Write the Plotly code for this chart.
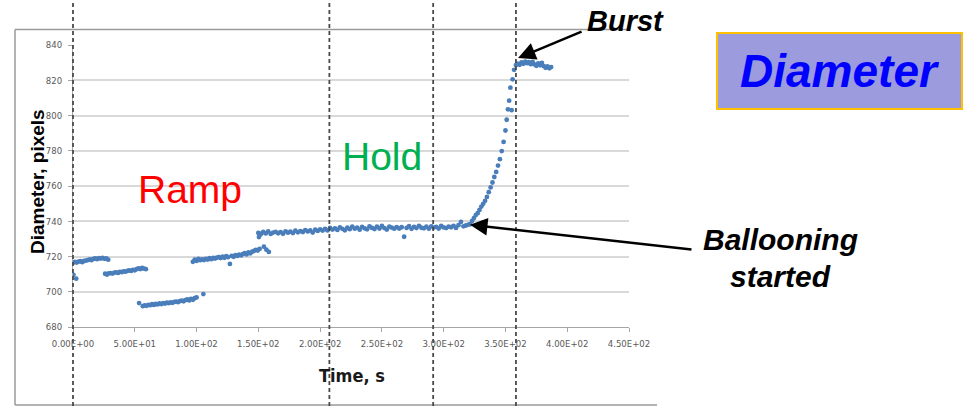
import plotly.graph_objects as go

# ---------------- data ----------------
# Ramp, first step
ramp1_t = [0.4, 2.6, 0.0, 1.5, 3.0, 4.5, 6.0, 7.5, 9.0, 10.5, 12.0, 13.5, 15.0, 16.5, 18.0,
           19.5, 21.0, 22.5, 24.0, 25.5, 27.0, 28.5]
ramp1_d = [709.6, 707.4, 716.4, 716.9, 716.6, 717.1, 717.3, 716.8, 717.5, 717.7, 718.0, 718.3,
           717.9, 718.6, 718.9, 718.5, 719.1, 718.8, 719.2, 718.7, 718.9, 718.2]

# Ramp, second step
ramp2_t = [26.0, 27.5, 29.0, 30.5, 32.0, 33.5, 35.0, 36.5, 38.0, 39.5, 41.0, 42.5, 44.0, 45.5,
           47.0, 48.5, 50.0, 51.5, 53.0, 54.5, 56.0, 57.5, 59.0]
ramp2_d = [710.2, 709.8, 710.4, 710.6, 710.3, 710.9, 711.0, 710.7, 711.3, 711.1, 711.6, 711.4,
           711.9, 712.1, 711.8, 712.4, 712.2, 712.8, 713.3, 712.9, 713.5, 713.1, 712.8]

# Ramp, third step (low)
ramp3_t = [53.5, 56.5, 58.0, 59.5, 61.0, 62.5, 64.0, 65.5, 67.0, 68.5, 70.0, 71.5, 73.0, 74.5,
           76.0, 77.5, 79.0, 80.5, 82.0, 83.5, 85.0, 86.5, 88.0, 89.5, 91.0, 92.5, 94.0, 95.5,
           97.0, 98.5, 100.0, 105.5]
ramp3_d = [693.6, 691.8, 692.3, 692.0, 692.6, 692.4, 692.9, 692.5, 693.1, 692.8, 693.4, 693.0,
           693.6, 693.3, 693.8, 693.5, 694.0, 693.7, 694.2, 694.4, 694.1, 694.7, 695.0, 694.6,
           695.3, 695.6, 695.1, 696.0, 695.4, 696.3, 696.8, 698.7]

# Ramp, fourth step
ramp4_t = [97.0, 98.5, 100.0, 101.5, 103.0, 104.5, 106.0, 107.5, 109.0, 110.5, 112.0, 113.5,
           115.0, 116.5, 118.0, 119.5, 121.0, 122.5, 124.0, 125.5, 127.0, 128.5, 130.0, 131.5,
           133.0, 134.5, 136.0, 137.5, 139.0, 140.5, 142.0, 143.5, 145.0, 146.5, 148.0, 149.5,
           151.0, 150.5, 151.5, 154.5, 156.5, 158.5]
ramp4_d = [717.0, 718.2, 717.5, 718.6, 717.9, 718.4, 718.0, 718.7, 718.3, 719.0, 718.5, 719.2,
           718.8, 719.4, 719.7, 719.1, 719.9, 719.3, 720.2, 719.6, 715.8, 720.4, 719.8, 720.8,
           720.3, 721.1, 720.6, 721.4, 721.9, 721.2, 722.3, 721.8, 722.7, 723.2, 723.8, 723.4,
           724.3, 731.0, 733.0, 725.6, 723.9, 722.6]

# Hold
hold_t = [150, 152, 154, 156, 158, 160, 162, 164, 166, 168, 170, 172, 174,
          176, 178, 180, 182, 184, 186, 188, 190, 192, 194, 196, 198, 200, 202,
          204, 206, 208, 210, 212, 214, 216, 218, 220, 222, 224, 226, 228, 230, 232, 234,
          236, 238, 240, 242,
          244, 246, 248, 250, 252, 254, 256, 258, 260, 262, 264, 266, 268, 270, 272, 274,
          276, 278, 280, 282,
          284, 286, 288, 290, 292, 294, 296, 298, 300, 302, 304, 306, 308, 310, 312, 314,
          316, 318, 320]
hold_d = [733.4, 732.6, 733.9, 733.1, 734.2, 732.8, 733.6, 734.0, 733.2, 733.8, 732.9, 734.3, 733.5,
          734.1, 733.3, 734.6, 733.7, 734.4, 733.9, 735.0, 734.2, 734.8, 733.6, 735.2, 734.5, 735.4, 734.7,
          735.6, 734.8, 736.2, 735.3, 736.0, 735.1, 736.5, 735.7, 734.9, 736.3, 735.5, 737.0, 735.8,
          736.4, 735.2, 736.8, 736.0, 735.4, 737.1, 736.2,
          735.6, 736.9, 735.9, 737.3, 736.1, 735.3, 737.0, 736.4, 735.8, 736.7, 735.9, 736.6, 731.2,
          736.2, 737.2, 735.7, 736.8, 736.1, 737.4, 736.3,
          736.0, 736.9, 735.8, 737.1, 736.4, 736.8, 735.9, 737.3, 736.5, 736.1, 737.0, 736.6, 737.4,
          736.2, 737.8, 739.6, 737.1, 737.6, 738.1]

# Ballooning
balloon_t = [321.5, 323.0, 324.5, 326.0, 327.5, 329.0, 330.5, 332.0, 333.5, 335.0, 336.5, 338.0,
             339.5, 341.0, 342.5, 344.0, 345.5, 347.0, 348.5, 350.0, 351.0, 352.0, 353.0, 354.0,
             355.0, 355.8]
balloon_d = [738.3, 740.2, 741.8, 743.5, 744.6, 746.4, 748.3, 749.9, 751.6, 753.8, 756.5, 759.2,
             762.0, 765.1, 768.0, 771.6, 775.2, 779.8, 785.0, 791.5, 797.6, 803.5, 808.4, 815.8,
             803.0, 820.5]

# After burst
burst_t = [357.0, 358.5, 360.0, 361.5, 363.0, 364.5, 366.0, 367.5, 369.0, 370.5, 372.0, 373.5,
           375.0, 376.5, 378.0, 379.5, 381.0, 382.5, 384.0, 385.5, 387.0]
burst_d = [825.9, 828.6, 829.4, 828.8, 830.1, 829.3, 830.6, 829.7, 830.3, 829.1, 830.4, 829.0,
           828.2, 829.6, 828.5, 829.8, 828.0, 827.1, 827.8, 826.8, 827.5]

# phase boundaries (time, s) drawn as dashed verticals
phase_bounds_s = [0.0, 207.5, 291.5, 358.5]

# arrow targets (time, diameter)
burst_point = (360.2, 832.6)
balloon_point = (321.3, 738.0)

x_tick_vals = [0, 50, 100, 150, 200, 250, 300, 350, 400, 450]
x_tick_text = ["0.00E+00", "5.00E+01", "1.00E+02", "1.50E+02", "2.00E+02",
               "2.50E+02", "3.00E+02", "3.50E+02", "4.00E+02", "4.50E+02"]
y_tick_vals = [680, 700, 720, 740, 760, 780, 800, 820, 840]

X_RANGE = [0, 450]
Y_RANGE = [680, 840]

# ---------------- figure ----------------
W, H = 963, 406
L, R, T, B = 73, 334, 45, 79
PW, PH = W - L - R, H - T - B


def pxx(xpix):
    return (xpix - L) / PW


def pxy(ypix):
    return (H - B - ypix) / PH


times = ramp1_t + ramp2_t + ramp3_t + ramp4_t + hold_t + balloon_t + burst_t
diams = ramp1_d + ramp2_d + ramp3_d + ramp4_d + hold_d + balloon_d + burst_d

fig = go.Figure()
fig.add_trace(go.Scatter(
    x=times, y=diams, mode="markers",
    marker=dict(size=4.8, color="#4A7EBB", line=dict(width=0)),
    showlegend=False, hoverinfo="skip",
))

narrow = "DejaVu Sans Condensed, Liberation Sans Narrow, Liberation Sans, Arial"
tick_font = dict(family=narrow, size=9.5, color="#595959")

fig.update_layout(
    width=W, height=H,
    margin=dict(l=L, r=R, t=T, b=B),
    paper_bgcolor="white", plot_bgcolor="white",
    xaxis=dict(range=X_RANGE, tickvals=x_tick_vals, ticktext=x_tick_text,
               showgrid=False, zeroline=False, showline=True, linecolor="#A6A6A6",
               linewidth=1, ticks="outside", ticklen=4, tickcolor="#A6A6A6",
               tickfont=tick_font, ticklabelstandoff=4),
    yaxis=dict(range=Y_RANGE, tickvals=y_tick_vals,
               showgrid=True, gridcolor="#D9D9D9", gridwidth=1.5, zeroline=False,
               showline=True, linecolor="#A6A6A6", linewidth=1,
               ticks="outside", ticklen=4, tickcolor="#A6A6A6",
               tickfont=tick_font, ticklabelstandoff=4),
)

# frame around the original chart image
frame_color = "#9A9A9A"
fig.add_shape(type="line", xref="paper", yref="paper",
              x0=pxx(15), x1=pxx(630), y0=pxy(29.5), y1=pxy(29.5),
              line=dict(color=frame_color, width=1.5))
fig.add_shape(type="line", xref="paper", yref="paper",
              x0=pxx(15), x1=pxx(15), y0=pxy(29.5), y1=pxy(405),
              line=dict(color=frame_color, width=1.5))
fig.add_shape(type="line", xref="paper", yref="paper",
              x0=pxx(15), x1=pxx(657), y0=pxy(405), y1=pxy(405),
              line=dict(color=frame_color, width=1.5))

# dashed phase boundaries spanning the whole picture height
for tb in phase_bounds_s:
    xp = (tb - X_RANGE[0]) / (X_RANGE[1] - X_RANGE[0])
    fig.add_shape(type="line", xref="paper", yref="paper",
                  x0=xp, x1=xp, y0=pxy(H), y1=pxy(0),
                  line=dict(color="#4A4A4A", width=1.8, dash="4px,3px"))

base = "Liberation Sans, Arial, sans-serif"

ann = [
    dict(text="<b>Diameter, pixels</b>", x=pxx(37), y=pxy(182), textangle=-90,
         font=dict(family=base, size=19, color="black")),
    dict(text="<b>Time, s</b>", x=pxx(352), y=pxy(375),
         font=dict(family=narrow, size=18, color="#1A1A1A")),
    dict(text="Ramp", x=pxx(190), y=pxy(189),
         font=dict(family=base, size=39, color="#FF0000")),
    dict(text="Hold", x=pxx(382), y=pxy(156),
         font=dict(family=base, size=39, color="#00B050")),
    dict(text="<b><i>Burst</i></b>", x=pxx(625), y=pxy(21),
         font=dict(family=base, size=29, color="black")),
    dict(text="<b><i>Ballooning</i></b>", x=pxx(780), y=pxy(240),
         font=dict(family=base, size=30, color="black")),
    dict(text="<b><i>started</i></b>", x=pxx(780), y=pxy(276),
         font=dict(family=base, size=30, color="black")),
    dict(text="<b><i>Diameter</i></b>", x=pxx(839), y=pxy(71),
         font=dict(family=base, size=46, color="#0000FF"),
         bgcolor="#9B9BDE", bordercolor="#FFC000", borderwidth=2,
         width=243, height=74, borderpad=0),
]
for a in ann:
    a.update(xref="paper", yref="paper", xanchor="center", yanchor="middle", showarrow=False)
    fig.add_annotation(**a)

# arrows
fig.add_annotation(x=burst_point[0], y=burst_point[1], xref="x", yref="y",
                   text="", showarrow=True, ax=65, ay=-27,
                   arrowhead=2, arrowsize=1.4, arrowwidth=2.5, arrowcolor="black", standoff=0)
fig.add_annotation(x=balloon_point[0], y=balloon_point[1], xref="x", yref="y",
                   text="", showarrow=True, ax=223, ay=25,
                   arrowhead=2, arrowsize=1.4, arrowwidth=2.5, arrowcolor="black", standoff=0)

fig.write_html("out.html")
